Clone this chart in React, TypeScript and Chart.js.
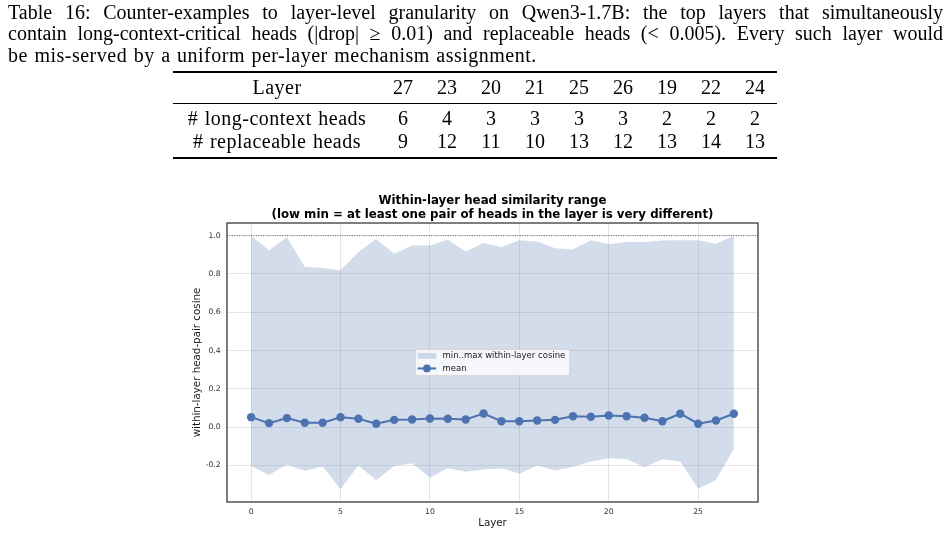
import React, { useEffect, useRef } from "react";
import { Chart, registerables } from "chart.js";

Chart.register(...registerables);

// ---------- caption + table data ----------
const captionLines = [
  "Table 16: Counter-examples to layer-level granularity on Qwen3-1.7B: the top layers that simultaneously",
  "contain long-context-critical heads (|drop| \u2265 0.01) and replaceable heads (< 0.005). Every such layer would",
  "be mis-served by a uniform per-layer mechanism assignment.",
];
const tableHeader = "Layer";
const tableLayers = [27, 23, 20, 21, 25, 26, 19, 22, 24];
const longContextLabel = "# long-context heads";
const longContextHeads = [6, 4, 3, 3, 3, 3, 2, 2, 2];
const replaceableLabel = "# replaceable heads";
const replaceableHeads = [9, 12, 11, 10, 13, 12, 13, 14, 13];

// ---------- chart data ----------
const titleLines = [
  "Within-layer head similarity range",
  "(low min = at least one pair of heads in the layer is very different)",
];
const layers = [0, 1, 2, 3, 4, 5, 6, 7, 8, 9, 10, 11, 12, 13, 14, 15, 16, 17, 18, 19, 20, 21, 22, 23, 24, 25, 26, 27];
const meanCos = [0.052, 0.021, 0.047, 0.023, 0.023, 0.052, 0.044, 0.018, 0.038, 0.040, 0.045, 0.044, 0.040, 0.071, 0.031, 0.031, 0.035, 0.038, 0.057, 0.054, 0.061, 0.057, 0.049, 0.031, 0.070, 0.018, 0.035, 0.070];
const maxCos = [1.0, 0.922, 0.991, 0.838, 0.831, 0.819, 0.915, 0.983, 0.906, 0.948, 0.948, 0.979, 0.917, 0.962, 0.941, 0.976, 0.970, 0.934, 0.927, 0.976, 0.955, 0.967, 0.967, 0.974, 0.976, 0.976, 0.958, 1.0];
const minCos = [-0.203, -0.250, -0.195, -0.229, -0.205, -0.325, -0.200, -0.278, -0.203, -0.189, -0.264, -0.214, -0.233, -0.221, -0.215, -0.243, -0.200, -0.227, -0.207, -0.179, -0.163, -0.167, -0.209, -0.168, -0.179, -0.320, -0.276, -0.113];
const rangeLabel = "min..max within-layer cosine";
const meanLabel = "mean";
const xTickValues = [0, 5, 10, 15, 20, 25];
const yTickValues = [-0.2, 0.0, 0.2, 0.4, 0.6, 0.8, 1.0];
const xMin = -1.35;
const xMax = 28.35;
const yMin = -0.391;
const yMax = 1.066;
const referenceLevel = 1.0;
const xTitle = "Layer";
const yTitle = "within-layer head-pair cosine";

const BLUE = "#4c72b0";
const BAND = "rgba(76,114,176,0.25)";
const SANS = "'DejaVu Sans', sans-serif";
const SERIF = "'Liberation Serif', 'Times New Roman', serif";

const overlayPlugin = {
  id: "overlay",
  afterDatasetsDraw(chart: any) {
    const { ctx, chartArea } = chart;
    const ys = chart.scales.y;
    const yRef = ys.getPixelForValue(referenceLevel);
    ctx.save();
    ctx.strokeStyle = "rgba(40,40,40,0.85)";
    ctx.lineWidth = 0.8;
    ctx.setLineDash([1, 1.4]);
    ctx.beginPath();
    ctx.moveTo(chartArea.left, yRef);
    ctx.lineTo(chartArea.right, yRef);
    ctx.stroke();
    ctx.setLineDash([]);
    ctx.strokeStyle = "#3a3a3a";
    ctx.lineWidth = 1.3;
    ctx.strokeRect(chartArea.left, chartArea.top, chartArea.right - chartArea.left, chartArea.bottom - chartArea.top);
    ctx.restore();
  },
  afterDraw(chart: any) {
    const { ctx, chartArea } = chart;
    const meanDs = chart.data.datasets[0];
    const bandDs = chart.data.datasets[1];
    ctx.save();
    ctx.font = `8.5px ${SANS}`;
    const tw = Math.max(ctx.measureText(bandDs.label).width, ctx.measureText(meanDs.label).width);
    const w = 27.3 + tw + 4.5;
    const h = 26.5;
    const cx = (chartArea.left + chartArea.right) / 2;
    const cy = (chartArea.top + chartArea.bottom) / 2;
    const x0 = cx - w / 2;
    const y0 = cy - h / 2;
    ctx.beginPath();
    if ((ctx as any).roundRect) (ctx as any).roundRect(x0, y0, w, h, 2);
    else ctx.rect(x0, y0, w, h);
    ctx.fillStyle = "rgba(255,255,255,0.8)";
    ctx.fill();
    ctx.strokeStyle = "#d0d0d0";
    ctx.lineWidth = 1;
    ctx.stroke();
    const r1 = y0 + 6.6;
    const r2 = y0 + 19.2;
    ctx.fillStyle = bandDs.backgroundColor;
    ctx.fillRect(x0 + 2.5, r1 - 2.9, 18.5, 5.8);
    ctx.strokeStyle = meanDs.borderColor;
    ctx.lineWidth = 2;
    ctx.beginPath();
    ctx.moveTo(x0 + 2.5, r2);
    ctx.lineTo(x0 + 21, r2);
    ctx.stroke();
    ctx.fillStyle = meanDs.borderColor;
    ctx.beginPath();
    ctx.arc(x0 + 11.75, r2, 3.9, 0, Math.PI * 2);
    ctx.fill();
    ctx.fillStyle = "#1a1a1a";
    ctx.textBaseline = "middle";
    ctx.textAlign = "left";
    ctx.fillText(bandDs.label, x0 + 27.3, r1);
    ctx.fillText(meanDs.label, x0 + 27.3, r2);
    ctx.restore();
  },
};

function Row({ top, label, values }: { top: number; label: string; values: (number | string)[] }) {
  return (
    <div
      style={{
        position: "absolute",
        left: 173,
        top,
        width: 604,
        height: 22,
        display: "flex",
        lineHeight: "22px",
        fontFamily: SERIF,
        fontSize: 20,
        color: "#000",
        whiteSpace: "nowrap",
      }}
    >
      <div style={{ width: 208, textAlign: "center", letterSpacing: 0.5, wordSpacing: 1 }}>{label}</div>
      {values.map((v, i) => (
        <div key={i} style={{ width: 44, textAlign: "center" }}>
          {v}
        </div>
      ))}
    </div>
  );
}

export default function App() {
  const canvasRef = useRef<HTMLCanvasElement | null>(null);

  useEffect(() => {
    if (!canvasRef.current) return;
    const chart = new Chart(canvasRef.current, {
      type: "line",
      data: {
        datasets: [
          {
            label: meanLabel,
            data: layers.map((l, i) => ({ x: l, y: meanCos[i] })),
            borderColor: BLUE,
            backgroundColor: BLUE,
            borderWidth: 2,
            pointRadius: 4.2,
            pointBackgroundColor: BLUE,
            pointBorderColor: BLUE,
            pointBorderWidth: 0,
            fill: false,
            tension: 0,
            order: 0,
          },
          {
            label: rangeLabel,
            data: layers.map((l, i) => ({ x: l, y: maxCos[i] })),
            borderColor: "transparent",
            backgroundColor: BAND,
            borderWidth: 0,
            pointRadius: 0,
            fill: "+1",
            tension: 0,
            order: 1,
          },
          {
            label: "min",
            data: layers.map((l, i) => ({ x: l, y: minCos[i] })),
            borderColor: "transparent",
            backgroundColor: BAND,
            borderWidth: 0,
            pointRadius: 0,
            fill: false,
            tension: 0,
            order: 2,
          },
        ],
      },
      options: {
        responsive: false,
        animation: false,
        events: [],
        layout: { padding: { left: 180, right: 192, top: 190, bottom: 0 } },
        plugins: {
          legend: { display: false },
          tooltip: { enabled: false },
          title: {
            display: true,
            text: titleLines,
            fullSize: false,
            color: "#000",
            font: { family: SANS, size: 11.8, weight: "bold", lineHeight: 14 / 11.8 },
            padding: { top: 3.5, bottom: 1.5 },
          },
        },
        scales: {
          x: {
            type: "linear",
            min: xMin,
            max: xMax,
            afterBuildTicks: (s: any) => {
              s.ticks = xTickValues.map((v) => ({ value: v }));
            },
            afterFit: (s: any) => {
              s.height = 34;
            },
            grid: { color: "rgba(0,0,0,0.1)", lineWidth: 1, drawTicks: false },
            border: { display: false },
            ticks: {
              font: { family: SANS, size: 7.7 },
              color: "#333",
              padding: 5.6,
              callback: (v: any) => String(v),
            },
            title: {
              display: true,
              text: xTitle,
              color: "#1a1a1a",
              font: { family: SANS, size: 10.3 },
              padding: { top: 0, bottom: 6.8 },
            },
          },
          y: {
            type: "linear",
            min: yMin,
            max: yMax,
            afterBuildTicks: (s: any) => {
              s.ticks = yTickValues.map((v) => ({ value: v }));
            },
            afterFit: (s: any) => {
              s.width = 47;
            },
            grid: { color: "rgba(0,0,0,0.1)", lineWidth: 1, drawTicks: false },
            border: { display: false },
            ticks: {
              font: { family: SANS, size: 7.7 },
              color: "#333",
              padding: 6.3,
              callback: (v: any) => Number(v).toFixed(1),
            },
            title: {
              display: true,
              text: yTitle,
              color: "#1a1a1a",
              font: { family: SANS, size: 10.3 },
              padding: { top: 11.3, bottom: 0 },
            },
          },
        },
      },
      plugins: [overlayPlugin],
    } as any);
    return () => chart.destroy();
  }, []);

  return (
    <div style={{ position: "absolute", left: 0, top: 0, width: 950, height: 536, background: "#fff", overflow: "hidden" }}>
      <canvas
        ref={canvasRef}
        width={950}
        height={536}
        style={{ position: "absolute", left: 0, top: 0, width: 950, height: 536 }}
      />
      <div style={{ position: "absolute", left: 8, top: 2, width: 935, fontFamily: SERIF, fontSize: 20, color: "#000" }}>
        {captionLines.map((line, i) => (
          <div
            key={i}
            style={{
              height: 21.4,
              lineHeight: "21.4px",
              textAlign: i < 2 ? "justify" : "left",
              textAlignLast: i < 2 ? "justify" : "left",
              letterSpacing: i < 2 ? 0 : 0.5,
              wordSpacing: i < 2 ? 0 : 1,
              whiteSpace: i < 2 ? "normal" : "nowrap",
            } as any}
          >
            {line}
          </div>
        ))}
      </div>
      <div style={{ position: "absolute", left: 173, top: 71, width: 604, height: 2, background: "#000" }} />
      <Row top={75.5} label={tableHeader} values={tableLayers} />
      <div style={{ position: "absolute", left: 173, top: 103, width: 604, height: 1, background: "#000" }} />
      <Row top={107.3} label={longContextLabel} values={longContextHeads} />
      <Row top={129.6} label={replaceableLabel} values={replaceableHeads} />
      <div style={{ position: "absolute", left: 173, top: 157, width: 604, height: 2, background: "#000" }} />
    </div>
  );
}
